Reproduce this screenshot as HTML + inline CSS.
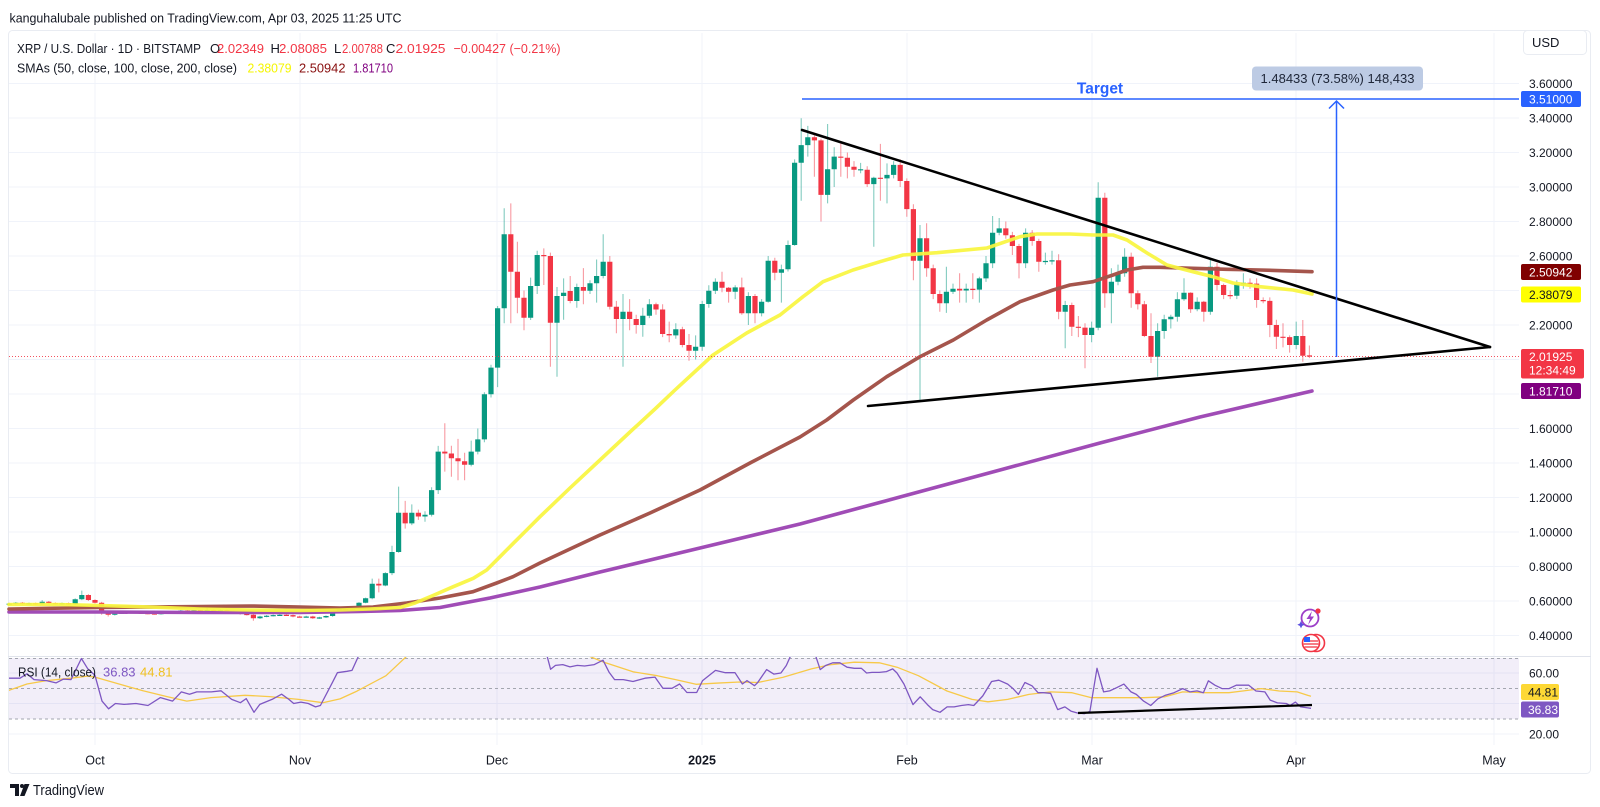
<!DOCTYPE html>
<html><head><meta charset="utf-8">
<style>
html,body{margin:0;padding:0;background:#fff;}
svg{display:block;font-family:"Liberation Sans",sans-serif;}
</style></head>
<body>
<svg width="1600" height="807" viewBox="0 0 1600 807" xmlns="http://www.w3.org/2000/svg">
<defs>
<clipPath id="cr"><rect x="9" y="657" width="1510" height="88"/></clipPath>
</defs>
<rect width="1600" height="807" fill="#fff"/>
<rect x="8.5" y="30.5" width="1582" height="743" rx="4" fill="#fff" stroke="#e9ecf2"/>
<!-- grid -->
<g stroke="#f0f3fa" stroke-width="1">
<line x1="95" y1="33" x2="95" y2="745"/><line x1="300" y1="33" x2="300" y2="745"/><line x1="497" y1="33" x2="497" y2="745"/><line x1="702" y1="33" x2="702" y2="745"/><line x1="907" y1="33" x2="907" y2="745"/><line x1="1092" y1="33" x2="1092" y2="745"/><line x1="1296" y1="33" x2="1296" y2="745"/><line x1="1494" y1="33" x2="1494" y2="745"/>
<line x1="9" y1="83.5" x2="1519" y2="83.5"/><line x1="9" y1="118" x2="1519" y2="118"/><line x1="9" y1="152.5" x2="1519" y2="152.5"/><line x1="9" y1="187" x2="1519" y2="187"/><line x1="9" y1="221.5" x2="1519" y2="221.5"/><line x1="9" y1="256" x2="1519" y2="256"/><line x1="9" y1="290.5" x2="1519" y2="290.5"/><line x1="9" y1="325" x2="1519" y2="325"/><line x1="9" y1="359.5" x2="1519" y2="359.5"/><line x1="9" y1="394" x2="1519" y2="394"/><line x1="9" y1="428.5" x2="1519" y2="428.5"/><line x1="9" y1="463" x2="1519" y2="463"/><line x1="9" y1="497.5" x2="1519" y2="497.5"/><line x1="9" y1="532" x2="1519" y2="532"/><line x1="9" y1="566.5" x2="1519" y2="566.5"/><line x1="9" y1="601" x2="1519" y2="601"/><line x1="9" y1="635.5" x2="1519" y2="635.5"/>
<line x1="9" y1="673" x2="1519" y2="673"/><line x1="9" y1="703.5" x2="1519" y2="703.5"/><line x1="9" y1="734" x2="1519" y2="734"/>
</g>
<line x1="8" y1="656.5" x2="1591" y2="656.5" stroke="#e0e3eb" stroke-width="1"/>
<!-- RSI band -->
<rect x="9" y="658" width="1510" height="61" fill="#7e57c2" fill-opacity="0.1"/>
<g stroke="#a3a6af" stroke-width="1" stroke-dasharray="3 3">
<line x1="9" y1="658.5" x2="1519" y2="658.5"/>
<line x1="9" y1="688.5" x2="1519" y2="688.5"/>
<line x1="9" y1="719" x2="1519" y2="719"/>
</g>

<!-- candles -->
<g fill="none">
<path stroke="#089981" stroke-opacity="0.5" stroke-width="1.1" d="M9.2 602.7V605.3M15.8 602V604.3M29 602.5V604.3M42.2 600.1V604.8M62 602.5V604.3M75.2 598.4V604.8M81.8 590.6V600.1M114.8 612.4V615.5M121.4 612V613.8M128 611.5V613.4M161 612.4V614.6M167.6 611.5V613.8M180.8 609.9V613.4M194 609.9V612M207.2 607.9V611.3M220.4 609.4V611.2M260 615.8V619M266.6 615V617.2M273.2 614.5V616.4M279.8 614.1V615.8M306.2 615.8V617.5M319.4 616.8V618.9M326 615.4V618M332.6 610.9V616.7M339.2 608.7V612.4M352.4 607.3V610.2M359 602.1V608.5M365.6 597.6V603.3M372.2 578.6V599.3M385.4 572.3V586.2M392 545.8V575.1M398.6 486.6V552.7M411.8 504.4V525.1M425 511.3V521.7M431.6 487.2V516.5M438.2 445.9V494M471.2 440.6V466.4M477.8 428.5V454.4M484.4 392.3V442.3M491 364.7V397.5M497.6 306V387.1M504.2 208.2V323.3M530.6 277.6V320M537.2 250.8V294M557 287V376.8M563.6 278.4V319.8M576.8 283.6V307.8M590 280.2V294M596.6 259.5V302.6M603.2 234.3V278.4M623 294V366.7M642.8 307.8V336.7M649.4 299.1V318.1M675.8 323.3V338.8M695.6 335.4V359.5M702.2 300.9V350.9M708.8 285.3V307.8M715.4 278.4V294M735.2 285.3V299.1M748.4 292.2V325M761.6 299.1V316.4M768.2 256V302.6M781.4 264.6V302.6M788 240.5V271.5M794.6 159.4V245.7M801.2 118.3V200.8M807.8 125.9V156.6M827.6 124V203.4M834.2 147.3V187M860.6 162.9V173.2M873.8 176.7V246.7M887 163.4V203.4M893.6 161.1V178.4M920 225V400M946.4 266.7V312.9M953 283.6V294M966.2 283.6V302.6M979.4 276.7V302.6M986 256V281.9M992.6 216V268.1M999.2 218V235.3M1025.6 228.4V268.1M1045.4 252.6V264.6M1052 250.8V264.6M1065.2 300.9V348.3M1091.6 321.6V342.3M1098.2 182.3V330.2M1111.4 268.2V323.3M1118 264.6V285.3M1124.6 248.2V276.7M1157.6 323.3V376.8M1164.2 314.7V338.8M1170.8 314.7V328.5M1177.4 292.2V321.6M1184 278.3V300.9M1197.2 297.4V311.2M1210.4 258.3V314.7M1236.8 280.2V299.1M1243.4 273.3V288.8M1296.2 321.6V349.2"/>
<path stroke="#f23645" stroke-opacity="0.5" stroke-width="1.1" d="M22.4 602V604.4M35.6 602.5V604.8M48.8 601V603.8M55.4 602.4V604.3M68.6 602.5V604.8M88.4 594.1V601M95 599.3V603.4M101.6 601.9V614.8M108.2 611.3V616.5M134.6 611.5V613.4M141.2 612V613.8M147.8 612.4V614.2M154.4 612.7V614.6M174.2 611.5V613.4M187.4 609.9V612M200.6 609.9V611.7M213.8 609.4V611.2M227 609.4V612M233.6 610.6V612.4M240.2 611V614.6M246.8 613.2V615.5M253.4 613.9V620.8M286.4 614.1V615.8M293 614.5V617.2M299.6 615.8V617.5M312.8 615.8V618.9M345.8 608.7V610.2M378.8 578.6V592.4M405.2 500.9V528.6M418.4 509.6V519.9M444.8 423.3V471.6M451.4 445.8V476.8M458 438.9V480.3M464.6 452.7V480.3M510.8 203.4V323.3M517.4 241.7V313.3M524 290.5V330.2M543.8 248.4V285M550.4 252.6V366.7M570.2 276V303.3M583.4 268.1V304.3M609.8 256V309.5M616.4 300.9V333.3M629.6 299.1V330.2M636.2 314.7V333.6M656 302.6V314.7M662.6 304.3V337.1M669.2 321.6V342.3M682.4 326.7V347.4M689 334V360.7M722 271.7V292.2M728.6 287V302.6M741.8 277.6V314.7M755 294V323.3M774.8 257.7V280.2M814.4 135.3V176.7M821 138.7V221.5M840.8 143.4V176.7M847.4 152.5V178.4M854 161.1V176.7M867.2 166.3V187M880.4 143.9V200.8M900.2 159.4V187M906.8 178.4V216.7M913.4 204.3V280.2M926.6 223.3V276.7M933.2 264.6V299.1M939.8 290.5V311.7M959.6 273.3V302.6M972.8 273.3V299.1M1005.8 221.5V238.8M1012.4 231.9V255M1019 243.9V278.4M1032.2 230.1V245.7M1038.8 238.8V271.7M1058.6 254.3V319.3M1071.8 302.6V336M1078.4 316V337.1M1085 323.3V368.3M1104.8 192.7V307.8M1131.2 252.6V307.8M1137.8 290.5V309.5M1144.4 300.9V337.1M1151 313.3V363M1190.6 292.2V312.9M1203.8 300.9V321.6M1217 262.9V290.5M1223.6 283.6V299.1M1230.2 290.5V299.1M1250 278.4V288.8M1256.6 278.4V307.8M1263.2 297.4V303.3M1269.8 297.4V337.1M1276.4 319.8V349M1283 323.3V347.4M1289.6 335.4V352.6M1302.8 320V361.8M1309.4 345.5V358.1"/>
<path stroke="#089981" stroke-width="5.2" d="M9.2 603.6V604.8M15.8 602.7V603.6M29 603.2V604.4M42.2 601.7V604.1M62 603.2V604.4M75.2 599.3V604.1M81.8 595V599.3M114.8 613.1V614.8M121.4 612.7V613.9M128 612.2V613.4M161 613.1V614.3M167.6 612.2V613.4M180.8 610.5V612.7M194 610.5V611.7M207.2 610V611.2M220.4 610V611.2M260 616.5V618.3M266.6 615.7V616.9M273.2 615.1V616.3M279.8 614.8V616M306.2 616.5V617.7M319.4 617.4V618.6M326 616V617.4M332.6 611.7V616M339.2 609.3V611.7M352.4 607.9V609.6M359 602.7V607.9M365.6 598.2V602.7M372.2 583.8V598.2M385.4 573.1V585.5M392 552V573.1M398.6 512.7V552M411.8 512.7V523.4M425 514.8V516.5M431.6 490.1V514.8M438.2 451.6V490.1M471.2 451.6V464.7M477.8 439.4V451.6M484.4 394.3V439.4M491 367.6V394.3M497.6 308.3V367.6M504.2 234.3V308.3M530.6 286V317.8M537.2 255V286M557 296V322.8M563.6 292.7V296M576.8 287V301M590 283.3V290.7M596.6 276V283.3M603.2 261.7V276M623 311.7V319M642.8 315.7V325M649.4 304.3V315.7M675.8 329.3V335.4M695.6 346.7V350.7M702.2 304V346.7M708.8 290.7V304M715.4 281.7V290.7M735.2 287.4V291.7M748.4 296V313.3M761.6 301.7V313.3M768.2 260.7V301.7M781.4 269.3V272.7M788 245V269.3M794.6 162.7V245M801.2 145.1V162.7M807.8 137.3V145.1M827.6 169.2V194.9M834.2 156.6V169.2M860.6 169.2V170.4M873.8 177.7V184.1M887 174.9V178.4M893.6 164.9V174.9M920 238.2V260.7M946.4 291.7V303.3M953 288.8V291.7M966.2 288.8V290.5M979.4 278.4V289.6M986 263.3V278.4M992.6 232.7V263.3M999.2 228.4V232.7M1025.6 232.7V263.3M1045.4 260.9V262.1M1052 260.3V261.5M1065.2 305V311.7M1091.6 327.8V335M1098.2 197.7V327.8M1111.4 281.7V293.3M1118 273.3V281.7M1124.6 256.7V273.3M1157.6 331V356.7M1164.2 319.3V331M1170.8 316.7V319.3M1177.4 299.3V316.7M1184 292.7V299.3M1197.2 301.7V309.3M1210.4 266.7V311.7M1236.8 284.3V295.7M1243.4 282.7V284.3M1296.2 336V345"/>
<path stroke="#f23645" stroke-width="5.2" d="M22.4 602.7V603.9M35.6 603.2V604.4M48.8 601.7V603.1M55.4 603.1V604.3M68.6 603.2V604.4M88.4 595V600M95 600V602.7M101.6 602.7V612.4M108.2 612.4V614.8M134.6 612.2V613.4M141.2 612.7V613.9M147.8 613.1V614.3M154.4 613.4V614.6M174.2 612.2V613.4M187.4 610.5V611.7M200.6 610.5V611.7M213.8 610V611.2M227 610V611.3M233.6 611.3V612.5M240.2 611.7V613.9M246.8 613.9V615.1M253.4 614.8V618.3M286.4 614.8V616M293 615.1V616.5M299.6 616.5V617.7M312.8 616.5V618.3M345.8 609.3V610.5M378.8 583.8V585.5M405.2 512.7V523.4M418.4 512.7V516.5M444.8 451.6V453.5M451.4 453.5V458.3M458 458.3V461.3M464.6 461.3V464.7M510.8 234.3V271.7M517.4 271.7V297.7M524 297.7V317.8M543.8 255V256.2M550.4 256V322.8M570.2 291V301M583.4 287V290.7M609.8 261.7V306.7M616.4 306.7V319M629.6 311.7V319M636.2 319V325M656 304.3V309.5M662.6 309.5V334M669.2 334V335.4M682.4 329.3V345M689 345V350.7M722 281.7V287.7M728.6 287.7V291.7M741.8 287.4V313.3M755 296V313.3M774.8 260.7V272.7M814.4 137.3V140.4M821 140.4V194.9M840.8 156.6V157.8M847.4 157.7V166.7M854 166.7V169.8M867.2 169.8V184.1M880.4 177.7V178.9M900.2 164.9V181M906.8 181V209.1M913.4 209.1V260.7M926.6 238.2V268.2M933.2 268.2V294M939.8 294V303.3M959.6 288.8V290.5M972.8 288.8V290M1005.8 228.4V235.3M1012.4 235.3V246M1019 246V263.3M1032.2 232.7V241M1038.8 241V261.7M1058.6 260.3V311.7M1071.8 305V326.7M1078.4 326.7V327.9M1085 327.6V335M1104.8 197.7V293.3M1131.2 256.7V293.3M1137.8 293.3V304.3M1144.4 304.3V336M1151 336V356.7M1190.6 292.7V309.3M1203.8 301.7V311.7M1217 266.7V285M1223.6 285V295M1230.2 295V296.2M1250 282.7V283.9M1256.6 283.6V300M1263.2 300V301.2M1269.8 300.9V325M1276.4 325V336.7M1283 336.7V337.9M1289.6 337.1V345M1302.8 336V355.7M1309.4 355.4V356.6"/>
</g>

<!-- SMAs -->
<g fill="none" stroke-width="3.6" stroke-linejoin="round" stroke-linecap="round">
<polyline stroke="#a04cb6" points="9,612 100,612 200,612.5 300,612.5 360,611.5 400,610.5 440,607.5 490,598 540,587 600,572 700,548 800,524 900,497 1000,470 1100,443 1200,417 1312,391"/>
<polyline stroke="#a5554c" points="9,609 100,607.5 200,606.5 250,606 300,607 340,608 373,607 406.7,603 440,598 473,591.7 496.7,583 513,576.7 540,563 600,535 650,513 700,490 750,463 800,437 826.7,420 853.3,400 886.7,376.7 920,356.7 953.3,340 986.7,320 1020,301.7 1053,290 1070,285 1093,281.7 1113,275 1127,270 1143,267.3 1160,267.3 1193,268.3 1227,269.3 1260,270 1312,271.7"/>
<polyline stroke="#f9f53e" stroke-opacity="0.92" points="9,604.5 60,604.5 100,605.5 150,607 200,609 250,610 300,610.5 340,610 370,609 400,607.5 415,603 433,595.5 453.3,586.7 473.3,578.3 486.7,570 500,556.7 513.3,543.3 526.7,530 540,516.7 570,488 600,460 630,432 655,409 675,390 713,355 746.7,333 780,315 803,296.7 823,281.7 853,270 880,261.7 903,255 937,252.7 987,248 1020,236.7 1037,234 1070,234 1093,235 1113,235 1127,240 1147,253 1167,265 1193,271.7 1213,276.7 1233,283 1260,286.7 1293,290 1312,294"/>
</g>

<!-- RSI -->
<g clip-path="url(#cr)" fill="none" stroke-width="1.3" stroke-linejoin="round">
<polyline stroke="#f7c948" points="7.7,690.8 27,684 46.5,680.6 71,678.2 87.7,676.1 95,677.1 119,684 143,690.8 167,696.6 186.8,701.1 211,697.6 245,695.3 269.5,696.6 298.6,699.4 322.8,702.7 340,698.9 357,691.1 386,675.7 407.7,655.3 450,642.5 500,636.4 550,645.6 587,655.3 604,662.3 633,671.8 657.3,675.7 676.7,679.9 696,684.3 715.5,683.2 739.7,682 757.7,682.5 782.7,677.4 811.4,668.9 829.3,664.9 854.3,662.2 879.3,662.8 897,667.2 918.4,675.7 947,691 972,699.4 988,701.8 1007.7,699.4 1029,694.4 1050.6,691.9 1072,692.7 1091.6,697.7 1114.9,697.7 1143.6,697.7 1165,696.8 1182.7,691.9 1204,692.7 1229,692.7 1243.6,690.9 1261.4,688.6 1279.3,691 1297.1,691.9 1307.9,695.4 1311,696.2"/>
<polyline stroke="#7e57c2" points="7.7,678.2 20,678.2 27,673.8 34,679.6 46.5,680.6 56,682.9 63.5,679.1 71,679.6 81.4,658.5 87.7,668.7 95,675.4 102,701.1 108.6,708.8 115.4,703.5 124,704.4 136,703.5 148,705.5 160.4,697.6 172.6,701.1 181.3,691.9 189.5,694.2 196.8,691.9 211.3,691.9 221,690.8 231.7,699.4 240.4,702.7 246.2,698.6 254,712.3 259.8,704.4 272,699.4 281.6,694.2 288.9,699.4 293.7,703.5 301,702.1 308.3,703.5 315.5,706.9 320.4,705.5 332.5,682.3 337.4,672.7 347,671.3 352,670.4 359,655 370,642.5 400,633.4 440,630.3 480,633.4 510,642.5 520,650.1 524,655.5 530,648.6 540,645.6 546.8,655 550.6,669.3 555.5,665.4 562.8,664.6 570,666.9 577.3,665.4 584.6,666 594.3,664.6 603,660.2 609,672.1 614.6,679.6 623.3,679.6 633,681.5 645,678.2 655,677.1 662.9,688.3 672,688.3 679.6,684 686.9,692.5 696.7,692.5 702.6,680.6 715.5,670.4 725.4,672.7 735,672.7 742.4,684 747,680.6 754.5,685.7 757.7,682.5 766.6,669.6 773.8,674.1 780.9,673 786.3,665.5 791.6,653.6 800,642.5 808,644 814.9,653.6 820.2,669.6 825.6,665.5 832.7,662.8 839.9,662.8 847,667.2 854.3,668.3 861.4,668.3 866.6,673 872,672.4 879.3,672.4 886.4,671.6 892.7,668.9 897,673 904,684.1 913,704.6 920.2,696.8 927.4,704.6 932.7,709.6 940,712.3 947.1,706.9 954.1,706.9 961.3,705.5 968.4,704.6 973.8,705.5 982.7,696 991.6,681.5 998.8,680.2 1007.7,684.1 1013,688.6 1018.4,694.4 1024.9,682.5 1032,685.8 1038,692.7 1043.4,692.7 1050.6,693.3 1057.7,709.6 1064.9,706.9 1071.3,711.3 1077.4,713 1084.5,713.7 1089.9,711.3 1097,668.3 1103.6,691.9 1109.7,690.9 1116.6,687.7 1123.9,684.1 1131,691.9 1136.3,694.4 1143.6,701.1 1150.7,705.5 1157.9,698.8 1165,695.4 1174,692.7 1182.7,688.6 1190,691.9 1197,690.9 1203.4,692.7 1208.4,680.8 1214.9,685.2 1222,688.6 1229,688.6 1236.3,685.2 1248.8,685.2 1256,691 1264.9,691.9 1270.2,700.1 1277.4,702.9 1286.3,703.5 1290,705.5 1295.4,702.1 1300.7,706.9 1307.9,707.9 1311,708.3"/>
</g>

<!-- current price dotted line -->
<line x1="9" y1="356.5" x2="1519" y2="356.5" stroke="#f23645" stroke-width="1" stroke-dasharray="1 2" opacity="0.85"/>
<!-- trend lines -->
<g stroke="#000" stroke-width="2.6" stroke-linecap="round">
<line x1="802" y1="130" x2="1490" y2="347"/>
<line x1="868" y1="406" x2="1490" y2="347"/>
</g>
<line x1="1078" y1="713" x2="1312" y2="705" stroke="#000" stroke-width="2.2"/>
<!-- target -->
<line x1="802" y1="99" x2="1519" y2="99" stroke="#2962ff" stroke-width="1.5"/>
<text x="1100" y="93.5" font-size="15.5" font-weight="bold" fill="#2962ff" text-anchor="middle">Target</text>
<g stroke="#2962ff" stroke-width="1.5" fill="none">
<line x1="1336.5" y1="101" x2="1336.5" y2="357"/>
<polyline points="1329,108.5 1336.5,101 1344,108.5"/>
</g>
<rect x="1252" y="66.5" width="171" height="24" rx="4" fill="#bdcbe4"/>
<text x="1337.5" y="83" font-size="13" fill="#1e2638" text-anchor="middle">1.48433 (73.58%) 148,433</text>

<!-- icons -->
<g>
<circle cx="1310" cy="618" r="8.5" fill="#fff" stroke="#9c3fc8" stroke-width="1.8"/>
<path d="M1312,611 L1306.5,619 L1310,619 L1308,625 L1314,616.5 L1310.5,616.5 Z" fill="#9c3fc8"/>
<circle cx="1318" cy="611" r="2.6" fill="#f23645"/>
<path d="M1301,621 l1.2,2.5 2.5,1.2 -2.5,1.2 -1.2,2.5 -1.2,-2.5 -2.5,-1.2 2.5,-1.2z" fill="#5b4fe0"/>
<circle cx="1316" cy="643" r="8.5" fill="#fff" stroke="#f23645" stroke-width="1.6"/>
<circle cx="1311" cy="643" r="8.5" fill="#fff" stroke="#f23645" stroke-width="1.6"/>
<g stroke="#f23645" stroke-width="1.3">
<line x1="1304" y1="641" x2="1318" y2="641"/><line x1="1303.5" y1="644" x2="1318.5" y2="644"/><line x1="1304.5" y1="647" x2="1317.5" y2="647"/>
</g>
<rect x="1304" y="637" width="6" height="5" fill="#2962ff"/>
</g>

<!-- header -->
<text x="9.5" y="22.5" font-size="13" fill="#131722" textLength="392" lengthAdjust="spacingAndGlyphs">kanguhalubale published on TradingView.com, Apr 03, 2025 11:25 UTC</text>
<g font-size="13">
<text x="17" y="53" fill="#131722" textLength="184" lengthAdjust="spacingAndGlyphs">XRP / U.S. Dollar · 1D · BITSTAMP</text>
<text x="210" y="53" fill="#131722">O</text><text x="217" y="53" fill="#f23645" textLength="47" lengthAdjust="spacingAndGlyphs">2.02349</text>
<text x="270.5" y="53" fill="#131722">H</text><text x="279" y="53" fill="#f23645" textLength="48" lengthAdjust="spacingAndGlyphs">2.08085</text>
<text x="334" y="53" fill="#131722">L</text><text x="342" y="53" fill="#f23645" textLength="41" lengthAdjust="spacingAndGlyphs">2.00788</text>
<text x="386" y="53" fill="#131722">C</text><text x="395.5" y="53" fill="#f23645" textLength="50" lengthAdjust="spacingAndGlyphs">2.01925</text>
<text x="453.5" y="53" fill="#f23645" textLength="107" lengthAdjust="spacingAndGlyphs">−0.00427 (−0.21%)</text>
<text x="17" y="72.5" fill="#131722" textLength="220" lengthAdjust="spacingAndGlyphs">SMAs (50, close, 100, close, 200, close)</text>
<text x="247.5" y="72.5" fill="#f5f500" textLength="44" lengthAdjust="spacingAndGlyphs">2.38079</text>
<text x="299" y="72.5" fill="#880e0e" textLength="46.5" lengthAdjust="spacingAndGlyphs">2.50942</text>
<text x="353" y="72.5" fill="#800080" textLength="40" lengthAdjust="spacingAndGlyphs">1.81710</text>
</g>
<g font-size="13">
<text x="18" y="676.5" fill="#131722" textLength="78" lengthAdjust="spacingAndGlyphs">RSI (14, close)</text>
<text x="103" y="676.5" fill="#7e57c2">36.83</text>
<text x="140" y="676.5" fill="#f0c020">44.81</text>
</g>

<!-- USD box -->
<rect x="1523.5" y="30.5" width="63" height="24" rx="4" fill="#fff" stroke="#e9ecf2"/>
<text x="1532" y="47" font-size="13" fill="#131722">USD</text>

<!-- price axis -->
<g font-size="12" fill="#131722">
<text x="1529" y="87.8">3.60000</text><text x="1529" y="122.3">3.40000</text><text x="1529" y="156.8">3.20000</text><text x="1529" y="191.3">3.00000</text><text x="1529" y="225.8">2.80000</text><text x="1529" y="260.3">2.60000</text><text x="1529" y="329.3">2.20000</text><text x="1529" y="432.8">1.60000</text><text x="1529" y="467.3">1.40000</text><text x="1529" y="501.8">1.20000</text><text x="1529" y="536.3">1.00000</text><text x="1529" y="570.8">0.80000</text><text x="1529" y="605.3">0.60000</text><text x="1529" y="639.8">0.40000</text>
</g>
<g font-size="12">
<rect x="1521" y="91" width="60" height="16" rx="2" fill="#2962ff"/><text x="1529" y="103.3" fill="#fff">3.51000</text>
<rect x="1521" y="264" width="60" height="16" rx="2" fill="#800000"/><text x="1529" y="276.3" fill="#fff">2.50942</text>
<rect x="1521" y="286.5" width="60" height="16" rx="2" fill="#ffff00"/><text x="1529" y="298.8" fill="#131722">2.38079</text>
<rect x="1521" y="349" width="63" height="29.5" rx="2" fill="#f23645"/><text x="1529" y="361" fill="#fff">2.01925</text><text x="1529" y="374.5" fill="#fff">12:34:49</text>
<rect x="1521" y="383" width="60" height="16" rx="2" fill="#800080"/><text x="1529" y="395.3" fill="#fff">1.81710</text>
<text x="1529" y="677.3" fill="#131722">60.00</text>
<text x="1529" y="738.3" fill="#131722">20.00</text>
<rect x="1521" y="684" width="38" height="16" rx="2" fill="#fdd835"/><text x="1528" y="696.3" fill="#131722">44.81</text>
<rect x="1521" y="701.5" width="38" height="16" rx="2" fill="#7e57c2"/><text x="1528" y="713.8" fill="#fff">36.83</text>
</g>

<!-- time axis -->
<g font-size="12.5" fill="#131722" text-anchor="middle">
<text x="95" y="764.5">Oct</text>
<text x="300" y="764.5">Nov</text>
<text x="497" y="764.5">Dec</text>
<text x="702" y="764.5" font-weight="bold">2025</text>
<text x="907" y="764.5">Feb</text>
<text x="1092" y="764.5">Mar</text>
<text x="1296" y="764.5">Apr</text>
<text x="1494" y="764.5">May</text>
</g>

<!-- TradingView logo -->
<g fill="#131722">
<path d="M10,784 h9 v12 h-4 v-8 h-5 z"/>
<circle cx="22" cy="786" r="2"/>
<path d="M24.5,784 h5 l-5,12 h-4.5 z"/>
</g>
<text x="33" y="795" font-size="14.5" fill="#131722" textLength="71" lengthAdjust="spacingAndGlyphs">TradingView</text>
</svg>
</body></html>
